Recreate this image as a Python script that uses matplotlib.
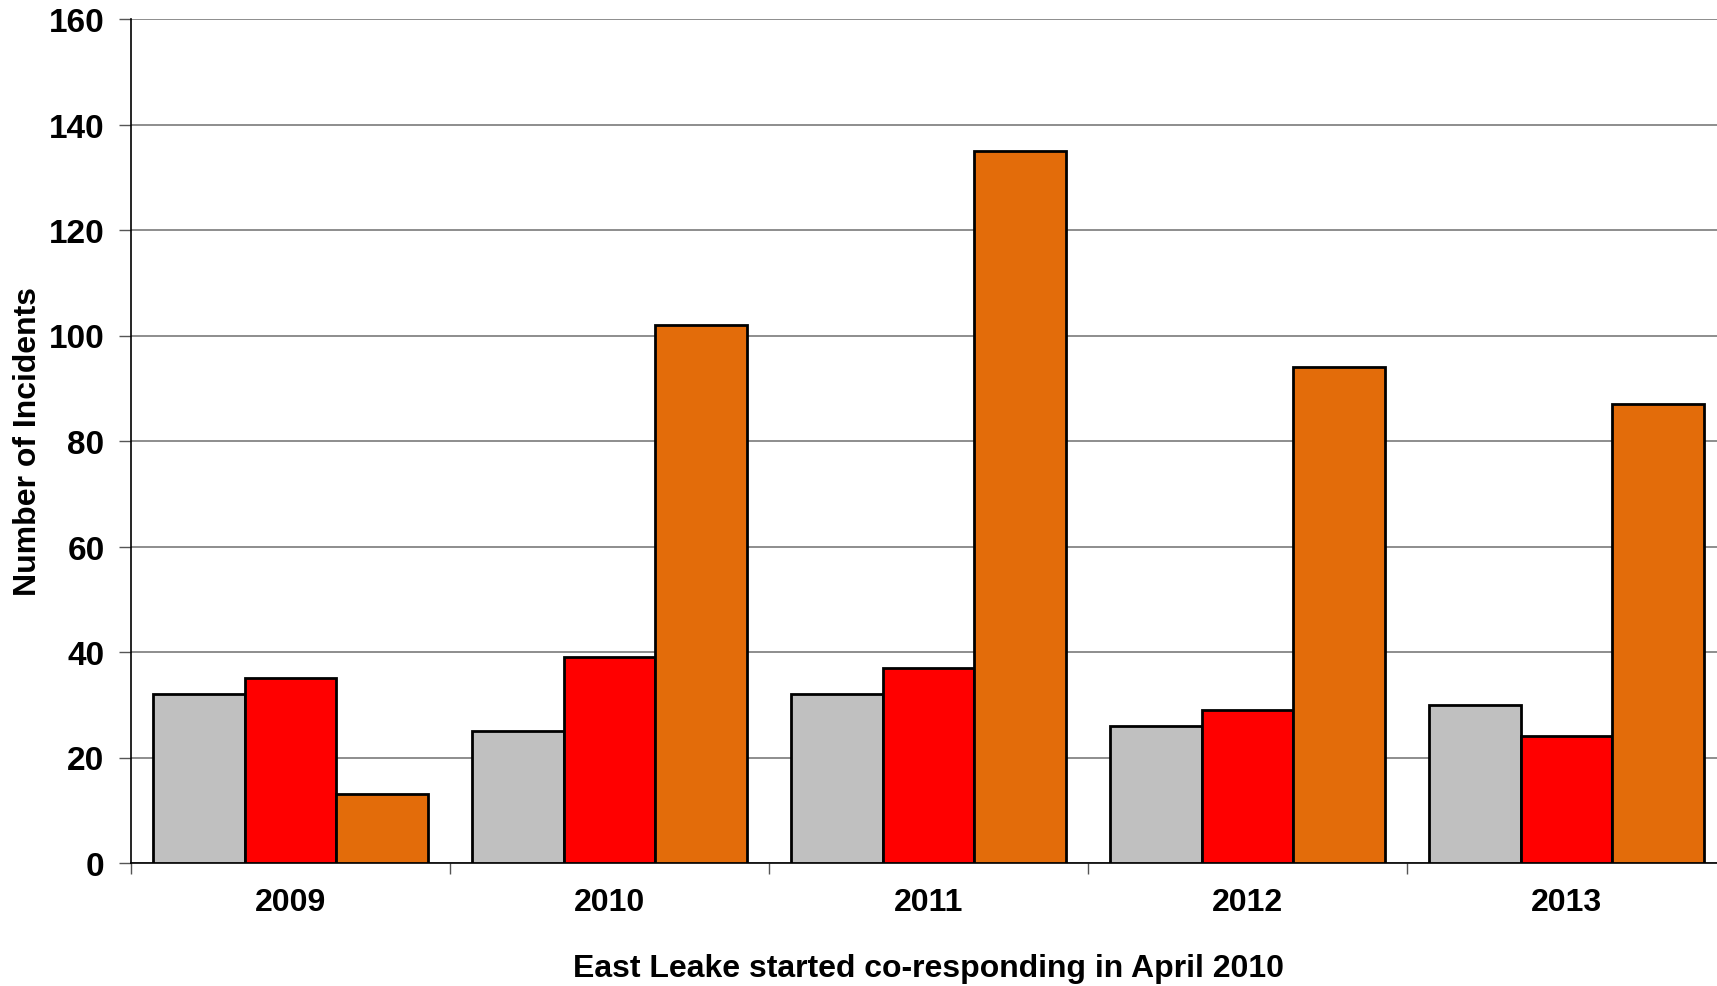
import matplotlib.pyplot as plt
import numpy as np

plt.rcParams["font.family"] = ["Liberation Sans", "DejaVu Sans"]
plt.rcParams["font.weight"] = "bold"

years = ["2009", "2010", "2011", "2012", "2013"]
series_grey = [32, 25, 32, 26, 30]
series_red = [35, 39, 37, 29, 24]
series_orange = [13, 102, 135, 94, 87]
colours = ["#C0C0C0", "#FF0000", "#E36C0A"]

W, H = 1717, 987
fig = plt.figure(figsize=(W / 100, H / 100), dpi=100)
# axes runs a little past the right edge, as in the reference
ax = fig.add_axes([131 / W, 1 - 864 / H, 1595 / W, 844 / H])

x = np.arange(len(years))
bw = 0.2866
for i, (vals, c) in enumerate(zip([series_grey, series_red, series_orange], colours)):
    ax.bar(x + (i - 1) * bw, vals, width=bw, color=c, edgecolor="black",
           linewidth=2, zorder=3)

ax.set_xlim(-0.5, len(years) - 0.5)
ax.set_ylim(0, 160)
ax.set_yticks(np.arange(0, 161, 20))
ax.yaxis.grid(True, color="#7a7a7a", linewidth=1.2, zorder=0)
ax.set_axisbelow(True)

ax.set_xticks(x)
ax.set_xticklabels(years, fontsize=23, fontweight="bold")
ax.set_xticks(np.arange(-0.5, len(years)), minor=True)
ax.tick_params(axis="x", which="major", length=0, pad=17)
ax.tick_params(axis="x", which="minor", length=8, width=1, color="#555555")
ax.tick_params(axis="y", length=9, width=1, color="#555555", labelsize=24, pad=10)
for lab in ax.get_yticklabels():
    lab.set_fontweight("bold")

for s in ["left", "bottom"]:
    ax.spines[s].set_linewidth(1.2)
ax.spines["top"].set_visible(False)
ax.spines["right"].set_visible(False)

ax.set_ylabel("Number of Incidents", fontsize=23, fontweight="bold", labelpad=4)
ax.set_xlabel("East Leake started co-responding in April 2010", fontsize=23,
              fontweight="bold", labelpad=26)

fig.savefig("out.png", dpi=100, facecolor="white")
